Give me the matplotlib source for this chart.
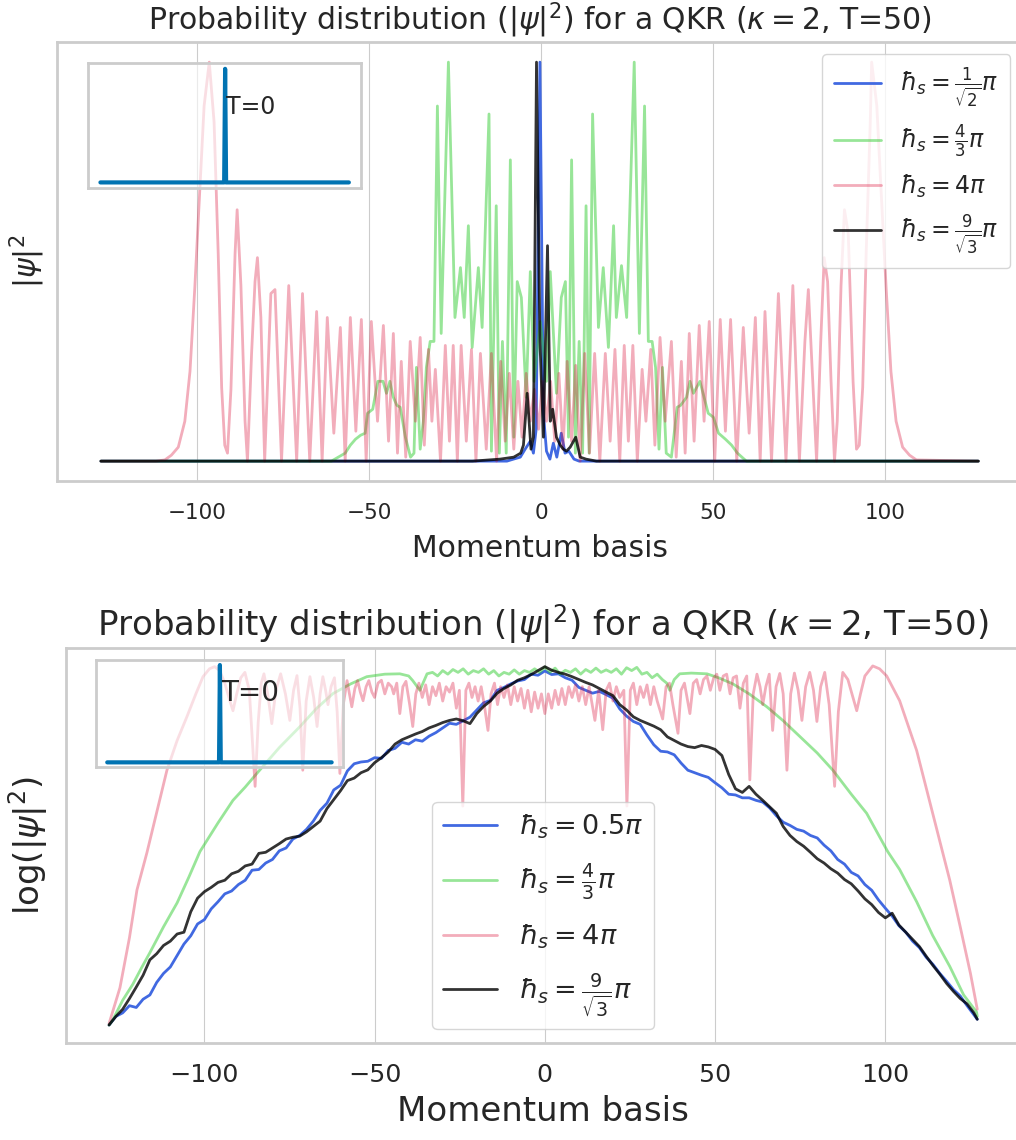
import matplotlib
matplotlib.use('Agg')
import matplotlib.pyplot as plt
import seaborn as sns

sns.set_style('whitegrid')
plt.rcParams['font.family'] = ['DejaVu Sans']

# ---------------- labels ----------------
title = r'Probability distribution ($|\psi|^2$) for a QKR ($\kappa = 2$, T=50)'
xlabel = 'Momentum basis'
ylabel_top = r'$|\psi|^2$'
ylabel_bot = r'$\log(|\psi|^2)$'
labels_top = [r'$\hbar_s = \frac{1}{\sqrt{2}}\pi$', r'$\hbar_s = \frac{4}{3}\pi$',
              r'$\hbar_s = 4\pi$', r'$\hbar_s = \frac{9}{\sqrt{3}}\pi$']
labels_bot = [r'$\hbar_s = 0.5\pi$', r'$\hbar_s = \frac{4}{3}\pi$',
              r'$\hbar_s = 4\pi$', r'$\hbar_s = \frac{9}{\sqrt{3}}\pi$']
xticks = [-100, -50, 0, 50, 100]

# initial state (T=0)
psi0_x = [-128, -1, 0, 1, 127]
psi0_y = [0, 0, 1, 0, 0]

# ---------------- top panel: |psi|^2 (normalised) ----------------
top_blue_x = [-128, -20, -10, -8.1, -6.1, -4.7, -3.2, -2.3, -1.5, -0.4, 0.6, 1.5, 2.5, 3.5, 4.5,
              5.8, 6.9, 8.0, 9.5, 11, 127]
top_blue_y = [0, 0, 0, 0.005, 0.01, 0.03, 0.05, 0.02, 0.08, 1.0, 0.12, 0.025, 0.005, 0.045, 0.01,
              0.07, 0.02, 0.025, 0.005, 0.0, 0]

top_green_x = [-128, -61, -59, -57, -55.5, -54, -52.5, -51.2, -50.5, -49, -47.5, -46, -45, -44, -43,
               -42, -41, -39.5, -38, -37, -36.3, -35.2, -34.3, -33.4, -32.3, -31.2, -30.2, -29.1,
               -27, -25.1, -23.5, -22.4, -21.2, -20.1, -18.3, -17.2, -15.2, -14.5, -13.1, -12.2,
               -11.3, -10.2, -9, -8, -7, -5.8, -4.4, -3.2, -2.1, -0.3, 1.5, 2.6, 4.4, 5.8, 7, 7.9,
               8.8, 9.9, 11, 12, 13, 13.9, 14.9, 16.6, 18, 19.5, 21, 21.8, 23.3, 24.8, 27, 28.5,
               30, 31.1, 32.2, 33.2, 34.2, 35.2, 36.3, 37.8, 39.5, 40.5, 42.2, 43.2, 44.2, 46.1,
               47.6, 48.5, 50, 51.5, 53.5, 55.3, 57, 59.6, 127]
top_green_y = [0, 0, 0.01, 0.02, 0.04, 0.055, 0.065, 0.07, 0.12, 0.13, 0.2, 0.2, 0.17, 0.2, 0.16,
               0.14, 0.135, 0.06, 0.01, 0.02, 0.235, 0.03, 0.1, 0.235, 0.3, 0.3, 0.89, 0.32,
               1.0, 0.36, 0.485, 0.36, 0.59, 0.285, 0.485, 0.335, 0.87, 0.025, 0.64, 0.02,
               0.3, 0.02, 0.755, 0.06, 0.45, 0.41, 0.16, 0.475, 0.2, 0.35, 0.2, 0.475, 0.17, 0.41, 0.45, 0.06,
               0.755, 0.02, 0.3, 0.02, 0.64, 0.02, 0.87, 0.335, 0.485, 0.285, 0.59, 0.36, 0.49, 0.36, 1.0, 0.32,
               0.89, 0.3, 0.3, 0.235, 0.03, 0.235, 0.02, 0.01, 0.135, 0.14, 0.16, 0.2, 0.17, 0.2,
               0.15, 0.12, 0.11, 0.07, 0.055, 0.04, 0.02, 0.0, 0]

top_pink_x = [-128, -112, -109.4, -107.5, -105.5, -103.6, -102.1, -100.7, -99.2, -98, -96.5, -95.1,
              -93.9, -92.9, -92, -91.2, -90.2, -89, -88.4, -87.3, -86.1, -85.4, -84.2, -83.2, -82.5,
              -81.5, -80.4, -78.6, -77.4, -75.5, -73.4, -71.1, -69.4, -67.3, -65.3, -63.7, -62.2,
              -60.3, -58.4, -57, -55.5, -53.9, -52.3, -50.9, -49.4, -47.6, -45.9, -44.4, -43.0,
              -41.8, -40.7, -39.4, -38.1, -36.6, -35.2, -34, -32.8, -31.8, -30.8, -29.3, -27.9,
              -26.7, -25.6, -24.4, -23.3, -21.8, -20.3, -19, -17.7, -16, -14.5, -13, -11.8, -10.5,
              -9.3, -8, -6.8, -5.6, -4.4, -3.2, -2, -0.8, 0.3, 1.5, 2.7, 3.9, 5.1, 6.3, 7.5, 8.8,
              10, 11.3, 12.6, 14, 15.5, 17, 18.6, 20, 21.4, 22.8, 24.1, 25.3, 26.6, 27.9, 29.3,
              30.4, 31.8, 33, 34.5, 36, 37.8, 39.2, 40.7, 41.8, 43.0, 44.4, 45.9, 47.3, 48.8, 50.4,
              52, 53.5, 55, 56.8, 58.7, 60.4, 62.2, 63.6, 65.0, 66.9, 68.9, 71.1, 73.1, 75.0, 76.6,
              77.6, 80.0, 81.2, 82.2, 83.2, 84.2, 85.2, 86.0, 87.1, 88.1, 89.2, 90.6, 91.6, 92.4,
              93.4, 94.4, 95.6, 96.0, 97.5, 98.7, 100.2, 101.6, 103.1, 105, 107, 109, 127]
top_pink_y = [0, 0, 0.003, 0.015, 0.035, 0.1, 0.225, 0.435, 0.685, 0.89, 1.0, 0.85,
              0.52, 0.185, 0.04, 0.02, 0.18, 0.52, 0.63, 0.44, 0.1, 0.0, 0.27, 0.45, 0.51,
              0.36, 0.0, 0.42, 0.43, 0.0, 0.44, 0.0, 0.42, 0.0, 0.375, 0.0, 0.36,
              0.07, 0.335, 0.0, 0.36, 0.075, 0.355, 0.0, 0.35, 0.1, 0.34, 0.05, 0.32,
              0.02, 0.25, 0.01, 0.30, 0.1, 0.31, 0.04, 0.28, 0.1, 0.23, 0.0, 0.29,
              0.05, 0.29, 0.0, 0.29, 0.05, 0.28, 0.0, 0.27, 0.03, 0.27, 0.0, 0.25, 0.05,
              0.22, 0.03, 0.2, 0.06, 0.22, 0.1, 0.18, 0.08, 0.2, 0.1, 0.2, 0.05, 0.22, 0.03, 0.25, 0.05,
              0.24, 0.0, 0.27, 0.02, 0.27, 0.0, 0.27, 0.05, 0.28, 0.0, 0.29, 0.05, 0.29, 0.0, 0.23,
              0.1, 0.28, 0.04, 0.31, 0.1, 0.30, 0.01, 0.25, 0.02, 0.32, 0.05, 0.34, 0.1, 0.35, 0.0,
              0.355, 0.075, 0.355, 0.0, 0.335, 0.07, 0.36, 0.0, 0.375, 0.0, 0.42, 0.0, 0.44, 0.0, 0.3,
              0.43, 0.0, 0.3, 0.51, 0.45, 0.2, 0.0, 0.1, 0.44, 0.63, 0.57, 0.2, 0.03, 0.04,
              0.185, 0.52, 0.85, 1.0, 0.89, 0.685, 0.435, 0.225, 0.1, 0.035, 0.015, 0.003, 0]

top_black_x = [-128, -20, -12, -8, -6, -5.2, -4.1, -3.0, -2.3, -1.4, -0.4, 0.6, 1.8, 2.6, 3.3, 4.4,
               5.5, 6.4, 7.3, 8.4, 10, 11.3, 13, 16, 127]
top_black_y = [0, 0, 0.005, 0.01, 0.02, 0.04, 0.17, 0.03, 0.06, 1.0, 0.3, 0.06, 0.54, 0.1, 0.13, 0.06,
               0.04, 0.03, 0.025, 0.035, 0.06, 0.01, 0.005, 0, 0]

# ---------------- bottom panel: log(|psi|^2) (arbitrary offset/scale) ----------------
bot_blue_x = [-128, -126, -124, -122, -120, -118, -116, -114, -112, -110, -108, -106, -104, -102,
              -100, -98, -96, -94, -92, -90, -88, -86, -84, -82, -80, -78, -76, -74, -72, -70,
              -68, -66, -64, -62, -60, -58, -56, -54, -52, -50, -48, -46, -44, -42, -40, -38,
              -36, -34, -32, -30, -28, -26, -24, -22, -20, -18, -16, -14, -12, -10, -8, -6, -4,
              -2, 0, 2, 4, 6, 8, 10, 12, 14, 16, 18, 20, 22, 24, 26, 28, 30, 32, 34, 36, 38, 40,
              42, 44, 46, 48, 50, 52, 54, 56, 58, 60, 62, 64, 66, 68, 70, 72, 74, 76, 78, 80, 82,
              84, 86, 88, 90, 92, 94, 96, 98, 100, 102, 104, 106, 108, 110, 112, 114, 116, 118,
              120, 122, 124, 126, 127]
bot_blue_y = [0.006, 0.03, 0.04, 0.06, 0.055, 0.078, 0.09, 0.125, 0.15, 0.168, 0.2, 0.232, 0.255, 0.288,
              0.3, 0.33, 0.35, 0.372, 0.38, 0.398, 0.41, 0.438, 0.44, 0.458, 0.468, 0.492, 0.5, 0.525, 0.535, 0.552,
              0.575, 0.605, 0.625, 0.662, 0.675, 0.715, 0.735, 0.74, 0.742, 0.752, 0.75, 0.772, 0.778, 0.795, 0.79, 0.802,
              0.798, 0.812, 0.822, 0.835, 0.848, 0.845, 0.855, 0.865, 0.885, 0.905, 0.912, 0.94, 0.948, 0.958, 0.966, 0.97, 0.985,
              0.982, 0.994, 0.984, 0.986, 0.975, 0.968, 0.948, 0.94, 0.932, 0.937, 0.928, 0.918, 0.888, 0.868, 0.853, 0.845, 0.815, 0.788, 0.77, 0.768, 0.76, 0.737,
              0.717, 0.71, 0.703, 0.697, 0.682, 0.668, 0.65, 0.648, 0.64, 0.64, 0.633, 0.628, 0.612, 0.59, 0.572, 0.563, 0.552, 0.547, 0.535, 0.528, 0.508,
              0.492, 0.468, 0.455, 0.432, 0.422, 0.398, 0.382, 0.355, 0.332, 0.31, 0.283, 0.265, 0.24, 0.222, 0.195, 0.175, 0.15, 0.128,
              0.105, 0.087, 0.06, 0.035, 0.022]

bot_green_x = [-128, -126.8, -124, -121, -118.5, -116, -112, -108, -104.5, -101.3, -96, -91.6, -88,
               -84.6, -78, -71.9, -67, -62.2, -57, -52.3, -47, -42.6, -40, -38.8, -36.7, -34.6,
               -33, -31.5, -30, -28.5, -27, -25.5, -24, -22.5, -21, -19.5, -18, -16.5, -15, -13.5,
               -12, -10.5, -9, -7.5, -6, -4.5, -3, -1.5, 0, 1.5, 3, 4.5, 6, 7.5, 9, 10.5, 12, 13.5,
               15, 16.5, 18, 19.5, 21, 22.5, 24, 25.5, 27, 28.5, 30, 31.5, 33, 34.5, 35.8, 36.7,
               38, 39.6, 43, 47.6, 51, 55.2, 60, 65.2, 70, 74.9, 80, 84.6, 90, 94.5, 100.7, 104.2,
               109.2, 113.9, 118.9, 123, 126.8, 127]
bot_green_y = [0.006, 0.022, 0.075, 0.12, 0.165, 0.208, 0.28, 0.347, 0.42, 0.49, 0.57, 0.633, 0.67,
               0.708, 0.78, 0.839, 0.89, 0.931, 0.958, 0.978, 0.985, 0.986, 0.98, 0.967, 0.94, 0.986,
               0.99, 0.98, 0.995, 0.985, 0.998, 0.99, 1.0, 0.985, 0.995, 0.99, 1.0, 0.985, 0.995, 0.98,
               0.99, 0.985, 0.997, 0.985, 0.995, 0.99, 1.0, 0.99, 1.005, 0.99, 1.002, 0.985, 0.996, 0.99, 1.0, 0.985, 0.998, 0.99,
               1.002, 0.99, 0.997, 0.99, 1.0, 0.985, 1.003, 0.995, 1.004, 0.985, 0.99, 0.975, 0.985, 0.97, 0.96, 0.94,
               0.97, 0.986, 0.988, 0.986, 0.975, 0.958, 0.93, 0.894, 0.855, 0.811, 0.765, 0.717, 0.65, 0.597, 0.49, 0.44,
               0.35, 0.256, 0.17, 0.09, 0.042, 0.03]

bot_pink_x = [-128, -124.8, -122, -119.8, -116.9, -114, -111, -108, -105.1, -102.5, -100.4, -98.5,
              -97, -95.5, -94, -92.5, -91.6, -90.5, -89.3, -88.1, -86.8, -85.9, -85.1, -84.2, -83.3,
              -82.5, -81.4, -80.2, -79, -77.6, -76.2, -74.9, -73.8, -72.8, -71.9, -71.1, -70.1,
              -69, -67.9, -66.9, -66, -65.2, -64.4, -63.7, -62.8, -61.8, -61, -60.2, -59.2, -58.1,
              -57.4, -56.7, -55.8, -55, -54.2, -53.4, -52.5, -51.7, -50.8, -50, -49, -48, -47, -46,
              -45, -44.4, -43.5, -42.6, -41.7, -40.8, -39.7, -38.8, -37.9, -37, -36, -35, -34, -33,
              -32, -31, -30, -29, -28, -27, -26, -25.1, -24.1, -23.2, -22.3, -21.4, -20.5, -19.6,
              -18.7, -17.8, -16.7, -15.8, -14.8, -13.9, -13, -12, -11, -10, -9, -8, -7, -6, -5, -4,
              -3, -2, -1, 0, 1, 2, 3, 4, 5, 6, 7, 8, 9, 10, 11, 12, 13, 14.7, 15.8, 17, 18, 19, 20,
              21, 22, 23.2, 24.1, 25.1, 26, 27, 28, 29, 30, 31, 32, 33, 34.6, 35.6, 36.6, 37.6,
              39.1, 40, 41, 42.6, 43.6, 44.6, 45.6, 46.6, 47.6, 48.6, 49.6, 50.5, 51.4, 52.4, 53.4,
              54.4, 55.3, 56.3, 57.3, 58.3, 59.3, 60.2, 61.2, 62.3, 63.2, 64, 64.9, 65.9, 66.9,
              67.9, 69, 70, 71.1, 72.2, 73.3, 74.4, 75.5, 76.6, 77.8, 78.9, 79.9, 81, 82.2, 83.5,
              85.1, 86.2, 87.5, 89, 90.5, 91.6, 92.7, 94, 96.3, 98.3, 100.4, 104.2, 109.2, 113.9,
              116.9, 118.9, 122, 125, 127]
bot_pink_y = [0.01, 0.11, 0.25, 0.383, 0.486, 0.6, 0.717, 0.8, 0.867, 0.93, 0.978, 1.0,
              1.006, 0.995, 0.96, 0.91, 0.883, 0.93, 0.975, 0.99, 0.94, 0.8, 0.672, 0.85, 0.96,
              0.986, 0.93, 0.847, 0.94, 0.986, 0.93, 0.856, 0.94, 0.981, 0.89, 0.717, 0.91,
              0.978, 0.92, 0.839, 0.93, 0.978, 0.94, 0.9, 0.95, 0.975, 0.88, 0.708, 0.9, 0.967,
              0.93, 0.894, 0.945, 0.967, 0.935, 0.911, 0.95, 0.967, 0.935, 0.92, 0.96, 0.968, 0.93, 0.96,
              0.95, 0.93, 0.96, 0.875, 0.95, 0.965, 0.9, 0.839, 0.93, 0.96, 0.92, 0.955, 0.9, 0.95,
              0.925, 0.96, 0.91, 0.95, 0.935, 0.96, 0.89, 0.94, 0.617, 0.94, 0.96, 0.92, 0.95, 0.91,
              0.95, 0.9, 0.828, 0.93, 0.96, 0.9, 0.95, 0.92, 0.955, 0.9, 0.95, 0.91, 0.945, 0.89, 0.94, 0.88,
              0.935, 0.89, 0.93, 0.875, 0.93, 0.89, 0.94, 0.9, 0.945, 0.9, 0.95, 0.92, 0.955, 0.91, 0.95, 0.9, 0.95, 0.856, 0.94, 0.83, 0.94, 0.96, 0.91,
              0.95, 0.92, 0.94, 0.617, 0.94, 0.96, 0.9, 0.95, 0.92, 0.955, 0.9, 0.95, 0.91, 0.86, 0.95, 0.96, 0.9,
              0.82, 0.94, 0.96, 0.875, 0.96, 0.97, 0.93, 0.97, 0.98, 0.94, 0.975, 0.985, 0.94, 0.98, 0.985,
              0.93, 0.975, 0.98, 0.89, 0.96, 0.98, 0.69, 0.93, 0.985, 0.95, 0.9, 0.95, 0.985, 0.828,
              0.95, 0.987, 0.93, 0.717, 0.93, 0.988, 0.94, 0.856, 0.95, 0.99, 0.94, 0.853, 0.95, 0.99, 0.9,
              0.672, 0.88, 0.99, 0.97, 0.92, 0.883, 0.93, 0.98, 1.008, 1.0, 0.98, 0.911, 0.772, 0.597,
              0.486, 0.411, 0.28, 0.15, 0.05]

bot_black_x = bot_blue_x
bot_black_y = [0.006, 0.03, 0.05, 0.08, 0.112, 0.145, 0.188, 0.205, 0.228, 0.24, 0.26, 0.265, 0.322, 0.36,
               0.378, 0.39, 0.404, 0.41, 0.428, 0.435, 0.45, 0.455, 0.485, 0.488, 0.5, 0.512, 0.525, 0.53, 0.533, 0.545,
               0.56, 0.575, 0.61, 0.635, 0.66, 0.688, 0.695, 0.71, 0.718, 0.738, 0.752, 0.768, 0.79, 0.802, 0.81, 0.818,
               0.825, 0.835, 0.842, 0.85, 0.856, 0.86, 0.855, 0.847, 0.875, 0.895, 0.91, 0.932, 0.945, 0.955, 0.968, 0.975, 0.984,
               0.995, 1.006, 0.996, 0.99, 0.985, 0.978, 0.97, 0.962, 0.955, 0.945, 0.935, 0.925, 0.9, 0.885, 0.866, 0.856, 0.848, 0.84, 0.83, 0.81, 0.8, 0.79,
               0.783, 0.78, 0.786, 0.782, 0.775, 0.758, 0.705, 0.665, 0.655, 0.672, 0.65, 0.633, 0.615, 0.597, 0.56, 0.535, 0.518, 0.505, 0.488, 0.47, 0.458,
               0.442, 0.43, 0.412, 0.4, 0.38, 0.358, 0.342, 0.32, 0.305, 0.318, 0.285, 0.265, 0.245, 0.225, 0.198, 0.172, 0.148, 0.122,
               0.1, 0.08, 0.065, 0.04, 0.022]

# ---------------- styling ----------------
c_blue, c_green, c_pink, c_black = 'royalblue', 'limegreen', 'crimson', 'k'
inset_color = '#0173B2'

fig = plt.figure(figsize=(10.16, 11.4), dpi=100)


def style(ax, fs_tick, fs_lab, fs_title, ylab, ypad, tpad, xpad):
    ax.set_xticks(xticks)
    ax.set_yticks([])
    ax.tick_params(axis='x', labelsize=fs_tick, pad=tpad)
    ax.set_xlabel(xlabel, fontsize=fs_lab, labelpad=xpad)
    ax.set_ylabel(ylab, fontsize=fs_lab, labelpad=ypad)
    ax.set_title(title, fontsize=fs_title, pad=9)
    for s in ax.spines.values():
        s.set_linewidth(2)
        s.set_color('0.8')


def inset(rect, fs, ty):
    ins = fig.add_axes(rect)
    ins.plot(psi0_x, psi0_y, color=inset_color, lw=3)
    ins.set_xticks([])
    ins.set_yticks([])
    ins.grid(False)
    ins.patch.set_facecolor('white')
    ins.patch.set_alpha(0.6)
    for s in ins.spines.values():
        s.set_linewidth(2)
        s.set_color('0.8')
    ins.text(1, ty, 'T=0', fontsize=fs, va='center', color='0.15')
    return ins


# top panel
ax1 = fig.add_axes([0.0561, 0.578, 0.95, 0.385])
ax1.plot(top_blue_x, top_blue_y, color=c_blue, lw=2, label=labels_top[0])
ax1.plot(top_green_x, top_green_y, color=c_green, alpha=0.5, lw=2, label=labels_top[1])
ax1.plot(top_pink_x, top_pink_y, color=c_pink, alpha=0.35, lw=2, label=labels_top[2])
ax1.plot(top_black_x, top_black_y, color=c_black, alpha=0.8, lw=2, label=labels_top[3])
style(ax1, 15.5, 21.5, 21.5, ylabel_top, 7, 12, 8)
ax1.legend(loc='upper right', fontsize=17, labelspacing=0.55, borderpad=0.5)
inset([0.0866, 0.835, 0.269, 0.1096], 17, 0.66)

# bottom panel
ax2 = fig.add_axes([0.0646, 0.0851, 0.94, 0.3465])
ax2.plot(bot_blue_x, bot_blue_y, color=c_blue, lw=2, label=labels_bot[0])
ax2.plot(bot_green_x, bot_green_y, color=c_green, alpha=0.5, lw=2, label=labels_bot[1])
ax2.plot(bot_pink_x, bot_pink_y, color=c_pink, alpha=0.35, lw=2, label=labels_bot[2])
ax2.plot(bot_black_x, bot_black_y, color=c_black, alpha=0.8, lw=2, label=labels_bot[3])
style(ax2, 18.3, 24.5, 24.5, ylabel_bot, 11, 11, 6)
ax2.legend(loc='lower center', fontsize=19.5, labelspacing=0.75)
inset([0.0945, 0.327, 0.243, 0.0939], 20, 0.71)

fig.savefig('out.png', dpi=100)
